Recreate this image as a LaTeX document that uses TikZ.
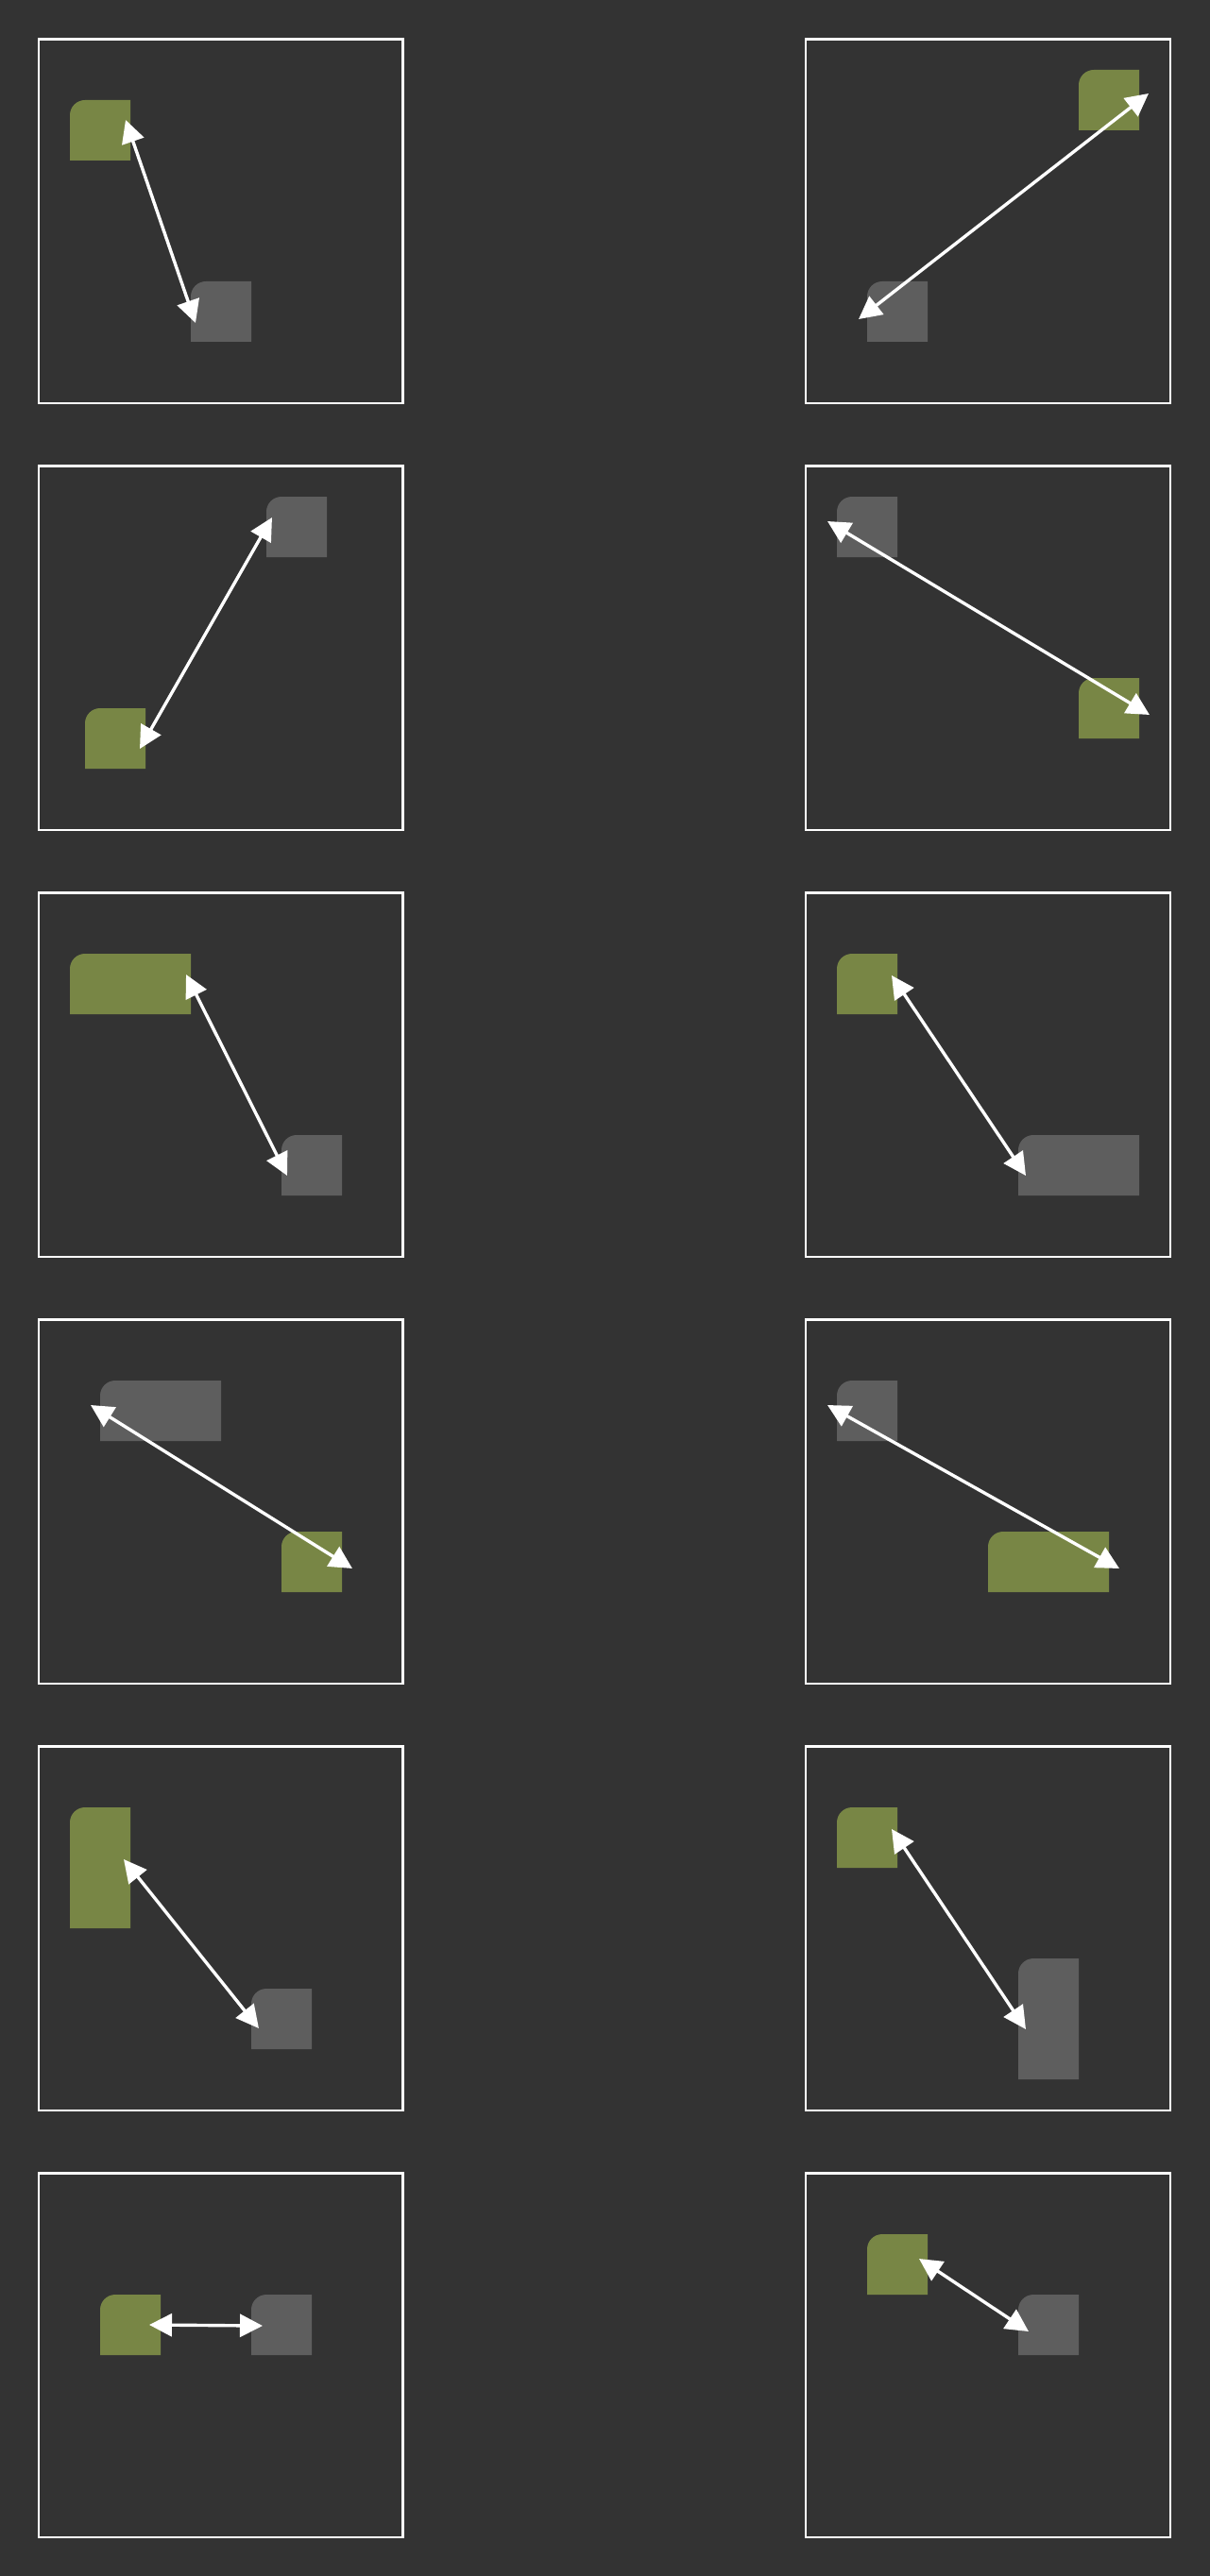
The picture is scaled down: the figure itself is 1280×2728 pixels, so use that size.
\documentclass[tikz,border=0pt]{standalone}
\usetikzlibrary{arrows.meta}
\definecolor{bgc}{RGB}{51,51,51}
\definecolor{selc}{RGB}{120,134,69}
\definecolor{altc}{RGB}{94,94,94}
\begin{document}
\begin{tikzpicture}[x=0.5pt, y=-0.5pt,
  tile/.style={inner sep=0pt, outer sep=0pt, anchor=north west, fill=bgc,
    path picture={\fill[#1] (path picture bounding box.south west)
      -- ([yshift=-8pt]path picture bounding box.north west)
      arc[start angle=180, end angle=90, radius=8pt]
      -- (path picture bounding box.north east)
      -- (path picture bounding box.south east) -- cycle;}},
  frame/.style={draw=white, line width=1.1pt},
  link/.style={draw=white, line width=1.7pt,
    {Triangle[length=12pt, width=12pt]}-{Triangle[length=12pt, width=12pt]}}]

\useasboundingbox (0, 0) rectangle (1280, 2728);
\fill[bgc] (-10, -10) rectangle (1290, 2738);

\foreach \r in {0,...,5} {
  \draw[frame] (41, 41.5+452*\r) rectangle ++(385.5, 385.5);
  \draw[frame] (853, 41.5+452*\r) rectangle ++(386, 385.5);
}

% panel / green box / grey box / arrow ends
\foreach \n/\gx/\gy/\gw/\gh/\hx/\hy/\hw/\hh/\ax/\ay/\bx/\by in {
  1/74/106/64/64/202/298/64/64/133/127/207/342,
  2/1142/74/64/64/918/298/64/64/1216/99/909/338,
  3/90/750/64/64/282/526/64/64/148/793/288/548,
  4/1142/718/64/64/886/526/64/64/1217/757/876/552,
  5/74/1010/128/64/298/1202/64/64/197/1032/304/1245,
  6/886/1010/64/64/1078/1202/128/64/944/1033/1086/1245,
  7/298/1622/64/64/106/1462/128/64/373/1661/96/1488,
  8/1046/1622/128/64/886/1462/64/64/1185/1661/876/1488,
  9/74/1914/64/128/266/2106/64/64/131/1969/274/2148,
  10/886/1914/64/64/1078/2074/64/128/944/1937/1086/2149,
  11/106/2430/64/64/266/2430/64/64/158/2462/278/2463,
  12/918/2366/64/64/1078/2430/64/64/973/2392/1089/2469} {
  \node[tile=selc, minimum width=\gw*0.5pt, minimum height=\gh*0.5pt] (sel\n) at (\gx, \gy) {};
  \node[tile=altc, minimum width=\hw*0.5pt, minimum height=\hh*0.5pt] (alt\n) at (\hx, \hy) {};
  \coordinate (selend\n) at (\ax, \ay);
  \coordinate (altend\n) at (\bx, \by);
  \draw[link] (selend\n) -- (altend\n);
}

\end{tikzpicture}
\end{document}
